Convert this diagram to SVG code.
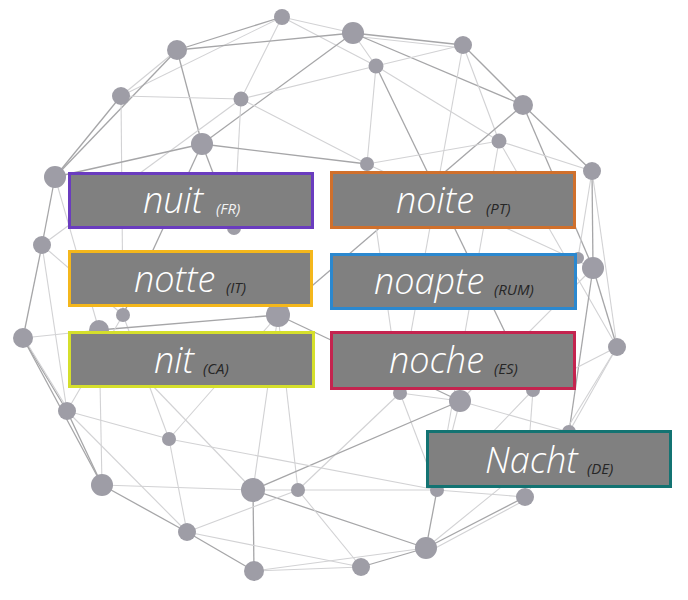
<svg xmlns="http://www.w3.org/2000/svg" width="688" height="600" viewBox="0 0 688 600">
<defs>
<style>
.d{stroke:#a6a6a8;stroke-width:1.3;fill:none}
.l{stroke:#d2d2d4;stroke-width:1.1;fill:none}
.n{fill:#9e9da6}
.box{fill:#808080;stroke-width:3}
.w{font-family:"Open Sans","Noto Sans","DejaVu Sans",sans-serif;font-style:italic;font-weight:300;font-size:36px;fill:#ffffff}
.c{font-family:"Open Sans","Noto Sans","DejaVu Sans",sans-serif;font-style:italic;font-weight:400;font-size:15px;fill:#262626}
</style>
</defs>
<rect width="688" height="600" fill="#ffffff"/>
<g id="connectors">
<line class="d" x1="282" y1="17" x2="177" y2="50"/>
<line class="l" x1="282" y1="17" x2="121" y2="96"/>
<line class="l" x1="282" y1="17" x2="353" y2="33"/>
<line class="l" x1="282" y1="17" x2="376" y2="66"/>
<line class="l" x1="282" y1="17" x2="241" y2="99"/>
<line class="d" x1="177" y1="50" x2="353" y2="33"/>
<line class="l" x1="177" y1="50" x2="121" y2="96"/>
<line class="d" x1="177" y1="50" x2="55" y2="177"/>
<line class="d" x1="177" y1="50" x2="202" y2="144"/>
<line class="d" x1="353" y1="33" x2="463" y2="45"/>
<line class="l" x1="353" y1="36" x2="463" y2="48"/>
<line class="d" x1="353" y1="33" x2="523" y2="105"/>
<line class="l" x1="353" y1="33" x2="376" y2="66"/>
<line class="d" x1="353" y1="33" x2="202" y2="144"/>
<line class="l" x1="463" y1="45" x2="376" y2="66"/>
<line class="d" x1="463" y1="45" x2="523" y2="105"/>
<line class="l" x1="463" y1="45" x2="499" y2="141"/>
<line class="l" x1="463" y1="45" x2="400" y2="393"/>
<line class="l" x1="376" y1="66" x2="241" y2="99"/>
<line class="l" x1="376" y1="66" x2="367" y2="164"/>
<line class="l" x1="376" y1="66" x2="499" y2="141"/>
<line class="d" x1="376" y1="66" x2="533" y2="390"/>
<line class="d" x1="121" y1="96" x2="55" y2="177"/>
<line class="l" x1="121" y1="96" x2="241" y2="99"/>
<line class="l" x1="121" y1="96" x2="123" y2="315"/>
<line class="l" x1="241" y1="99" x2="367" y2="164"/>
<line class="l" x1="241" y1="99" x2="234" y2="228"/>
<line class="l" x1="241" y1="99" x2="42" y2="245"/>
<line class="d" x1="523" y1="105" x2="592" y2="171"/>
<line class="d" x1="523" y1="105" x2="593" y2="268"/>
<line class="d" x1="523" y1="105" x2="278" y2="315"/>
<line class="d" x1="202" y1="144" x2="55" y2="177"/>
<line class="d" x1="202" y1="144" x2="367" y2="164"/>
<line class="d" x1="202" y1="144" x2="123" y2="315"/>
<line class="d" x1="202" y1="144" x2="234" y2="228"/>
<line class="l" x1="499" y1="141" x2="367" y2="164"/>
<line class="l" x1="499" y1="141" x2="592" y2="171"/>
<line class="l" x1="499" y1="141" x2="437" y2="490"/>
<line class="l" x1="499" y1="141" x2="617" y2="347"/>
<line class="d" x1="55" y1="177" x2="42" y2="245"/>
<line class="l" x1="55" y1="177" x2="99" y2="330"/>
<line class="l" x1="367" y1="164" x2="593" y2="268"/>
<line class="l" x1="367" y1="164" x2="400" y2="393"/>
<line class="d" x1="592" y1="171" x2="593" y2="268"/>
<line class="l" x1="592" y1="171" x2="617" y2="347"/>
<line class="l" x1="592" y1="171" x2="578" y2="258"/>
<line class="d" x1="42" y1="245" x2="23" y2="338"/>
<line class="l" x1="42" y1="245" x2="67" y2="411"/>
<line class="l" x1="42" y1="245" x2="123" y2="315"/>
<line class="d" x1="593" y1="268" x2="617" y2="347"/>
<line class="d" x1="593" y1="268" x2="569" y2="432"/>
<line class="l" x1="593" y1="268" x2="460" y2="401"/>
<line class="l" x1="123" y1="315" x2="169" y2="439"/>
<line class="l" x1="99" y1="330" x2="23" y2="338"/>
<line class="d" x1="99" y1="330" x2="278" y2="315"/>
<line class="l" x1="99" y1="330" x2="102" y2="485"/>
<line class="d" x1="278" y1="315" x2="460" y2="401"/>
<line class="l" x1="278" y1="315" x2="253" y2="490"/>
<line class="l" x1="278" y1="315" x2="298" y2="490"/>
<line class="l" x1="278" y1="315" x2="169" y2="439"/>
<line class="d" x1="23" y1="338" x2="67" y2="411"/>
<line class="l" x1="25" y1="340" x2="70" y2="413"/>
<line class="d" x1="23" y1="338" x2="102" y2="485"/>
<line class="l" x1="617" y1="347" x2="533" y2="390"/>
<line class="l" x1="617" y1="347" x2="569" y2="432"/>
<line class="l" x1="617" y1="347" x2="525" y2="497"/>
<line class="d" x1="67" y1="411" x2="102" y2="485"/>
<line class="l" x1="67" y1="411" x2="169" y2="439"/>
<line class="l" x1="67" y1="411" x2="187" y2="532"/>
<line class="l" x1="67" y1="411" x2="123" y2="315"/>
<line class="l" x1="400" y1="393" x2="298" y2="490"/>
<line class="l" x1="400" y1="393" x2="437" y2="490"/>
<line class="l" x1="400" y1="393" x2="460" y2="401"/>
<line class="l" x1="460" y1="401" x2="437" y2="490"/>
<line class="l" x1="460" y1="401" x2="569" y2="432"/>
<line class="d" x1="460" y1="401" x2="253" y2="490"/>
<line class="l" x1="533" y1="390" x2="437" y2="490"/>
<line class="l" x1="533" y1="390" x2="525" y2="497"/>
<line class="l" x1="169" y1="439" x2="187" y2="532"/>
<line class="l" x1="169" y1="439" x2="437" y2="490"/>
<line class="l" x1="569" y1="432" x2="426" y2="548"/>
<line class="l" x1="102" y1="485" x2="253" y2="490"/>
<line class="d" x1="102" y1="485" x2="187" y2="532"/>
<line class="l" x1="253" y1="490" x2="298" y2="490"/>
<line class="d" x1="253" y1="490" x2="254" y2="571"/>
<line class="d" x1="253" y1="490" x2="426" y2="548"/>
<line class="l" x1="253" y1="490" x2="99" y2="330"/>
<line class="l" x1="298" y1="490" x2="437" y2="490"/>
<line class="l" x1="298" y1="490" x2="187" y2="532"/>
<line class="l" x1="298" y1="490" x2="361" y2="567"/>
<line class="l" x1="437" y1="490" x2="525" y2="497"/>
<line class="d" x1="437" y1="490" x2="426" y2="548"/>
<line class="d" x1="525" y1="497" x2="426" y2="548"/>
<line class="l" x1="525" y1="500" x2="428" y2="552"/>
<line class="d" x1="187" y1="532" x2="254" y2="571"/>
<line class="l" x1="187" y1="532" x2="361" y2="567"/>
<line class="l" x1="426" y1="548" x2="254" y2="571"/>
<line class="d" x1="426" y1="548" x2="361" y2="567"/>
<line class="l" x1="254" y1="571" x2="361" y2="567"/>
</g>
<g id="network-nodes">
<circle class="n" cx="282" cy="17" r="8"/>
<circle class="n" cx="177" cy="50" r="10"/>
<circle class="n" cx="353" cy="33" r="11"/>
<circle class="n" cx="463" cy="45" r="9"/>
<circle class="n" cx="376" cy="66" r="7.5"/>
<circle class="n" cx="121" cy="96" r="9"/>
<circle class="n" cx="241" cy="99" r="7.5"/>
<circle class="n" cx="523" cy="105" r="10"/>
<circle class="n" cx="202" cy="144" r="11"/>
<circle class="n" cx="499" cy="141" r="7.5"/>
<circle class="n" cx="55" cy="177" r="11"/>
<circle class="n" cx="367" cy="164" r="7"/>
<circle class="n" cx="592" cy="171" r="9"/>
<circle class="n" cx="42" cy="245" r="9"/>
<circle class="n" cx="234" cy="228" r="7"/>
<circle class="n" cx="593" cy="268" r="11"/>
<circle class="n" cx="578" cy="258" r="6"/>
<circle class="n" cx="123" cy="315" r="7"/>
<circle class="n" cx="99" cy="330" r="10"/>
<circle class="n" cx="278" cy="315" r="12"/>
<circle class="n" cx="23" cy="338" r="10"/>
<circle class="n" cx="617" cy="347" r="9"/>
<circle class="n" cx="67" cy="411" r="9"/>
<circle class="n" cx="400" cy="393" r="7"/>
<circle class="n" cx="460" cy="401" r="11"/>
<circle class="n" cx="533" cy="390" r="7"/>
<circle class="n" cx="169" cy="439" r="7"/>
<circle class="n" cx="569" cy="432" r="7"/>
<circle class="n" cx="102" cy="485" r="11"/>
<circle class="n" cx="253" cy="490" r="12"/>
<circle class="n" cx="298" cy="490" r="7"/>
<circle class="n" cx="437" cy="490" r="7"/>
<circle class="n" cx="525" cy="497" r="9"/>
<circle class="n" cx="187" cy="532" r="9"/>
<circle class="n" cx="426" cy="548" r="11"/>
<circle class="n" cx="254" cy="571" r="10"/>
<circle class="n" cx="361" cy="567" r="9"/>
</g>
<g id="nuit">
<rect class="box" x="69.5" y="173.5" width="243" height="54" stroke="#6a3cbf"/>
<text class="w" x="143" y="213">nuit</text>
<text class="c" x="216" y="214" style="fill:#f2f2f2">(FR)</text>
</g>
<g id="noite">
<rect class="box" x="331.5" y="172.5" width="243" height="55" stroke="#d0702c"/>
<text class="w" x="396" y="213">noite</text>
<text class="c" x="486" y="214">(PT)</text>
</g>
<g id="notte">
<rect class="box" x="69.5" y="251.5" width="242" height="54" stroke="#f4b71c"/>
<text class="w" x="134" y="292">notte</text>
<text class="c" x="226" y="293">(IT)</text>
</g>
<g id="noapte">
<rect class="box" x="331.5" y="254.5" width="244" height="54" stroke="#2b88cf"/>
<text class="w" x="374" y="294">noapte</text>
<text class="c" x="494" y="295">(RUM)</text>
</g>
<g id="nit">
<rect class="box" x="69.5" y="332.5" width="244" height="54" stroke="#d5df2c"/>
<text class="w" x="154" y="373">nit</text>
<text class="c" x="203" y="374">(CA)</text>
</g>
<g id="noche">
<rect class="box" x="331.5" y="332.5" width="243" height="56" stroke="#c4244f"/>
<text class="w" x="389" y="373">noche</text>
<text class="c" x="494" y="374">(ES)</text>
</g>
<g id="nacht">
<rect class="box" x="427.5" y="431.5" width="243" height="55" stroke="#137372"/>
<text class="w" x="485" y="473">Nacht</text>
<text class="c" x="587" y="474">(DE)</text>
</g>
</svg>
